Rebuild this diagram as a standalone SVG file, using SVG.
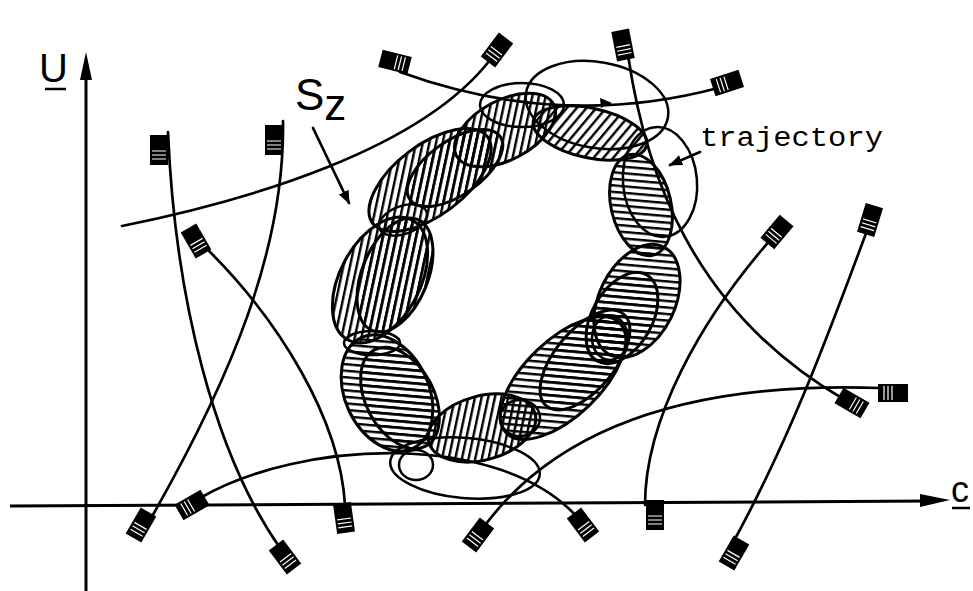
<svg xmlns="http://www.w3.org/2000/svg" width="973" height="591" viewBox="0 0 973 591">
<style>
.ax{fill:none;stroke:#000;stroke-width:3}
.ln{fill:none;stroke:#000;stroke-width:2.7;stroke-linecap:round}
.ring path{stroke:#000;stroke-width:3}
.vh{fill:url(#vh)}
.hh{fill:url(#hh)}
.dh{fill:url(#dh)}
.tr{fill:none;stroke:#000;stroke-width:2.5}
.lbl{font-family:"Liberation Sans",Arial,sans-serif;fill:#000}
.mono{font-family:"Liberation Mono","Courier New",monospace;fill:#000}
</style>
<defs>
<pattern id="vh" width="6.5" height="6.5" patternUnits="userSpaceOnUse" patternTransform="rotate(12)"><rect x="0" y="0" width="2.4" height="6.5" fill="#000"/></pattern>
<pattern id="hh" width="6.5" height="6.5" patternUnits="userSpaceOnUse" patternTransform="rotate(5)"><rect x="0" y="0" width="6.5" height="2.4" fill="#000"/></pattern>
<pattern id="dh" width="7.5" height="7.5" patternUnits="userSpaceOnUse" patternTransform="rotate(40)"><rect x="0" y="0" width="2.4" height="7.5" fill="#000"/></pattern>
<g id="flag"><rect x="-9" y="-15" width="18" height="30" fill="#000"/><path d="M-7,1H7M-7,5H7M-7,9H7" stroke="#fff" stroke-width="1.2"/></g>
<marker id="ah" viewBox="0 0 10 10" refX="9" refY="5" markerWidth="5" markerHeight="5" orient="auto"><path d="M0,1L10,5L0,9z" fill="#000"/></marker>
</defs>
<rect width="973" height="591" fill="#fff"/>

<g id="axes">
<path class="ax" d="M86,591V70"/>
<path d="M86,52L80,80H92z" fill="#000"/>
<path class="ax" d="M10,506L930,501"/>
<path d="M950,500L920,494V507z" fill="#000"/>
</g>

<g id="ring" class="ring">
<path id="ringA" class="vh" d="M487.5,136.7A72,36,-37,0,1,372.5,223.3A72,36,-37,0,1,487.5,136.7Z"/>
<path id="ringA2" class="vh" d="M500.06,136.45A55,27,-35,0,1,409.94,199.55A55,27,-35,0,1,500.06,136.45Z"/>
<path id="ringB" class="vh" d="M553.56,104.18A55,30,-28,0,1,456.44,155.82A55,30,-28,0,1,553.56,104.18Z"/>
<path id="ringI" class="dh" d="M646.73,145.06A58,25,12,0,1,533.27,120.94A58,25,12,0,1,646.73,145.06Z"/>
<path id="ringH" class="hh" d="M670.23,198.25A30,52,-13,0,1,611.77,211.75A30,52,-13,0,1,670.23,198.25Z"/>
<path id="ringG" class="hh" d="M671.15,317.66A38,61,26,0,1,602.85,284.34A38,61,26,0,1,671.15,317.66Z"/>
<path id="ringG2" class="hh" d="M647.98,333A30,50,30,0,1,596.02,303A30,50,30,0,1,647.98,333Z"/>
<path id="ringF" class="hh" d="M619.83,323.12A79,38,-44,0,1,506.17,432.88A79,38,-44,0,1,619.83,323.12Z"/>
<path id="ringF2" class="hh" d="M623.57,314.04A60,30,-50,0,1,546.43,405.96A60,30,-50,0,1,623.57,314.04Z"/>
<path id="ringE" class="vh" d="M535.13,413.77A55,32,-15,0,1,428.87,442.23A55,32,-15,0,1,535.13,413.77Z"/>
<path id="ringD" class="hh" d="M425.06,375.25A42,62,-25,0,1,348.94,410.75A42,62,-25,0,1,425.06,375.25Z"/>
<path id="ringD2" class="hh" d="M430.02,382.04A34,55,-28,0,1,369.98,413.96A34,55,-28,0,1,430.02,382.04Z"/>
<path id="ringC" class="vh" d="M415.32,298.78A40,68,28,0,1,344.68,261.22A40,68,28,0,1,415.32,298.78Z"/>
<path id="ringC2" class="vh" d="M425.6,287.36A33,60,22,0,1,364.4,262.64A33,60,22,0,1,425.6,287.36Z"/>
</g>

<g id="trajectory">
<ellipse class="tr" cx="597" cy="105" rx="72" ry="43" transform="rotate(10 597 105)"/>
<ellipse class="tr" cx="522" cy="105" rx="42" ry="22"/>
<ellipse class="tr" cx="660" cy="182" rx="37" ry="55" transform="rotate(-5 660 182)"/>
<ellipse class="tr" cx="465" cy="468" rx="75" ry="30" transform="rotate(5 465 468)"/>
<ellipse class="tr" cx="403" cy="220" rx="25" ry="14" transform="rotate(-20 403 220)"/>
<ellipse class="tr" cx="372" cy="343" rx="28" ry="12"/>
<ellipse class="tr" cx="520" cy="418" rx="20" ry="18"/>
<ellipse class="tr" cx="610" cy="338" rx="18" ry="22"/>
<ellipse class="tr" cx="416" cy="465" rx="17" ry="15"/>
<path d="M612,103L600,98L601,108z" fill="#000"/>
</g>

<g id="connectors">
<path id="c1" class="ln" d="M168,132C175,300 215,455 280,548"/>
<path id="c2" class="ln" d="M283,121C285,250 230,380 150,520"/>
<path id="c3" class="ln" d="M203,245C280,320 340,420 345,505"/>
<path id="c4" class="ln" d="M122,226C250,200 420,150 490,60"/>
<path id="c5" class="ln" d="M400,72Q560,130 718,88"/>
<path id="c6" class="ln" d="M628,55C645,170 690,310 845,400"/>
<path id="c7" class="ln" d="M772,238C700,320 645,420 645,505"/>
<path id="c8" class="ln" d="M200,498C300,440 500,430 578,518"/>
<path id="c9" class="ln" d="M483,528C540,450 650,380 880,388"/>
<path id="c10" class="ln" d="M868,228C830,330 790,440 730,548"/>
<path id="szArrow" class="ln" d="M313,128L349,203" marker-end="url(#ah)"/>
<path id="trajArrow" class="ln" d="M700,152L670,165" marker-end="url(#ah)"/>
</g>

<g id="flags">
<use href="#flag" transform="translate(159,150)"/>
<use href="#flag" transform="translate(285,557) rotate(-37)"/>
<use href="#flag" transform="translate(274,140)"/>
<use href="#flag" transform="translate(141,525) rotate(30)"/>
<use href="#flag" transform="translate(196,241) rotate(-30)"/>
<use href="#flag" transform="translate(344,518) rotate(-8)"/>
<use href="#flag" transform="translate(497,50) rotate(37)"/>
<use href="#flag" transform="translate(395,62) rotate(-76)"/>
<use href="#flag" transform="translate(727,83) rotate(72)"/>
<use href="#flag" transform="translate(623,45) rotate(-11)"/>
<use href="#flag" transform="translate(852,403) rotate(-60)"/>
<use href="#flag" transform="translate(777,232) rotate(40)"/>
<use href="#flag" transform="translate(655,515)"/>
<use href="#flag" transform="translate(192,505) rotate(60)"/>
<use href="#flag" transform="translate(583,525) rotate(-37)"/>
<use href="#flag" transform="translate(478,535) rotate(37)"/>
<use href="#flag" transform="translate(893,393) rotate(90)"/>
<use href="#flag" transform="translate(870,220) rotate(17)"/>
<use href="#flag" transform="translate(734,553) rotate(30)"/>
</g>

<g id="labels">
<text class="lbl" x="39" y="82" font-size="40">U</text>
<path d="M45,89H66" stroke="#000" stroke-width="2.5"/>
<text class="lbl" x="295" y="110" font-size="44">S<tspan dy="10">z</tspan></text>
<text class="mono" x="700" y="146" font-size="27" textLength="183" lengthAdjust="spacingAndGlyphs">trajectory</text>
<text class="lbl" x="951" y="502" font-size="36">c</text>
<path d="M952,508H970" stroke="#000" stroke-width="2.5"/>
</g>
</svg>
